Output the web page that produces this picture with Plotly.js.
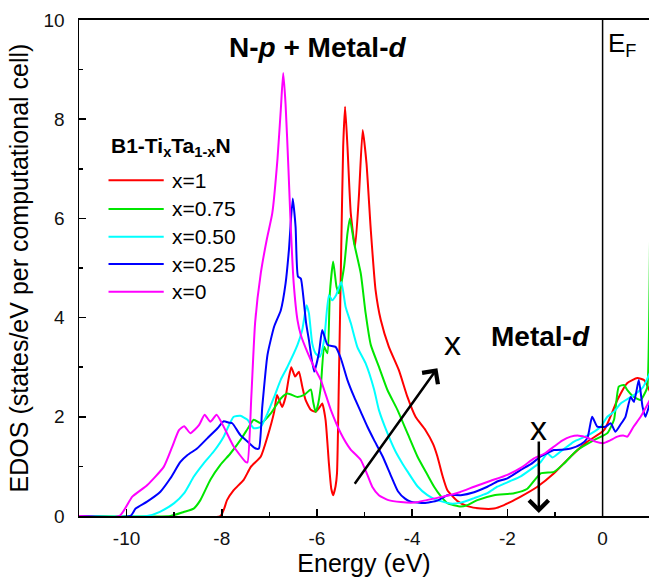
<!DOCTYPE html>
<html>
<head>
<meta charset="utf-8">
<script src="https://cdn.plot.ly/plotly-3.0.1.min.js"></script>
<style>
  html, body { margin: 0; padding: 0; background: #fff; overflow: hidden; }
  #chart { width: 649px; height: 577px; }
</style>
</head>
<body>
<div id="chart"></div>
<script>
// Electronic DOS of B1-TixTa1-xN for several compositions
const seriesNames = ['x=1', 'x=0.75', 'x=0.50', 'x=0.25', 'x=0'];
const seriesColors = ['#ff0000', '#00e600', '#00ffff', '#0000ff', '#ff00ff'];

// x = 1
const energy_x100 = [-11, -8.03, -7.95, -7.89, -7.75, -7.54, -7.39, -7.18, -7.04, -6.90, -6.84, -6.78, -6.73, -6.66, -6.59, -6.54, -6.46, -6.38, -6.31, -6.24, -6.13, -6.03, -5.94, -5.89, -5.82, -5.75, -5.70, -5.66, -5.61, -5.58, -5.54, -5.49, -5.45, -5.41, -5.36, -5.29, -5.20, -5.12, -5.04, -4.96, -4.87, -4.77, -4.66, -4.49, -4.28, -4.10, -3.93, -3.72, -3.56, -3.47, -3.36, -3.26, -3.05, -2.84, -2.56, -2.28, -2.07, -1.86, -1.72, -1.37, -1.02, -0.67, -0.32, 0.03, 0.31, 0.52, 0.73, 0.87, 1.0];
const dos_x100 = [0, 0, 0.15, 0.32, 0.52, 0.73, 0.99, 1.2, 1.6, 2.1, 2.44, 2.3, 2.2, 2.4, 2.8, 3.0, 2.81, 2.91, 2.61, 2.34, 2.14, 2.1, 2.2, 2.27, 1.94, 1.06, 0.55, 0.42, 0.6, 0.86, 2.74, 5.43, 7.45, 8.25, 7.45, 6.1, 5.43, 6.44, 7.78, 7.11, 5.77, 4.56, 3.95, 3.41, 2.94, 2.4, 2.0, 1.73, 1.45, 1.2, 0.8, 0.52, 0.3, 0.2, 0.15, 0.15, 0.22, 0.32, 0.39, 0.59, 0.86, 1.2, 1.5, 1.73, 2.34, 2.68, 2.78, 2.74, 2.5];

// x = 0.75
const energy_x075 = [-11, -9.08, -8.80, -8.59, -8.45, -8.24, -8.03, -7.82, -7.61, -7.43, -7.33, -7.18, -6.97, -6.76, -6.62, -6.41, -6.27, -6.13, -6.08, -6.03, -5.99, -5.92, -5.85, -5.78, -5.73, -5.66, -5.59, -5.54, -5.43, -5.36, -5.31, -5.22, -5.08, -4.98, -4.87, -4.70, -4.52, -4.31, -4.10, -3.89, -3.68, -3.54, -3.40, -3.26, -2.98, -2.84, -2.63, -2.28, -1.86, -1.58, -1.30, -1.02, -0.81, -0.53, -0.18, 0.10, 0.24, 0.34, 0.45, 0.52, 0.66, 0.80, 0.90, 0.94, 1.0];
const dos_x075 = [0, 0, 0.08, 0.15, 0.32, 0.73, 1.03, 1.26, 1.53, 1.80, 1.94, 1.87, 2.07, 2.37, 2.47, 2.4, 2.44, 2.55, 2.3, 2.1, 2.2, 2.61, 3.41, 3.28, 4.49, 5.13, 4.62, 4.49, 5.03, 5.70, 6.0, 5.5, 4.89, 4.1, 3.45, 3.01, 2.54, 2.14, 1.67, 1.2, 0.83, 0.59, 0.4, 0.26, 0.19, 0.22, 0.32, 0.42, 0.46, 0.55, 0.86, 0.89, 1.06, 1.33, 1.53, 1.67, 1.94, 2.61, 2.64, 2.54, 2.4, 2.34, 2.5, 2.6, 6.0];

// x = 0.50
const energy_x050 = [-11, -9.57, -9.29, -9.0, -8.79, -8.59, -8.38, -8.17, -7.96, -7.85, -7.75, -7.61, -7.46, -7.33, -7.18, -7.04, -6.90, -6.76, -6.62, -6.41, -6.31, -6.22, -6.17, -6.10, -6.03, -5.94, -5.85, -5.75, -5.68, -5.60, -5.49, -5.40, -5.29, -5.15, -4.98, -4.80, -4.70, -4.52, -4.35, -4.20, -4.10, -3.89, -3.68, -3.50, -3.19, -2.98, -2.70, -2.42, -2.21, -1.95, -1.72, -1.45, -1.30, -1.16, -1.05, -0.88, -0.60, -0.32, -0.04, 0.10, 0.24, 0.38, 0.66, 0.85, 1.0];
const dos_x050 = [0, 0, 0.09, 0.26, 0.46, 0.79, 1.06, 1.30, 1.60, 1.83, 2.0, 2.02, 1.94, 1.77, 1.80, 2.07, 2.4, 2.75, 3.01, 3.45, 3.75, 4.25, 4.09, 3.48, 3.28, 3.21, 3.55, 4.45, 4.35, 4.45, 4.72, 4.22, 3.89, 3.4, 3.08, 2.55, 2.14, 1.67, 1.3, 1.05, 0.9, 0.6, 0.42, 0.33, 0.25, 0.27, 0.36, 0.46, 0.59, 0.7, 0.8, 0.98, 1.09, 1.26, 1.18, 1.3, 1.5, 1.62, 1.8, 2.0, 2.1, 2.27, 2.44, 2.6, 2.9];

// x = 0.25
const energy_x025 = [-11, -9.92, -9.81, -9.57, -9.29, -9.08, -8.87, -8.72, -8.52, -8.30, -8.09, -7.96, -7.85, -7.78, -7.61, -7.46, -7.29, -7.22, -7.15, -7.04, -6.90, -6.76, -6.66, -6.59, -6.51, -6.45, -6.40, -6.34, -6.29, -6.23, -6.17, -6.06, -5.96, -5.89, -5.78, -5.61, -5.50, -5.36, -5.22, -5.08, -4.94, -4.80, -4.62, -4.45, -4.30, -4.15, -4.03, -3.75, -3.47, -3.26, -2.98, -2.70, -2.42, -2.20, -2.0, -1.72, -1.50, -1.30, -1.02, -0.80, -0.67, -0.45, -0.32, -0.22, -0.11, 0.06, 0.17, 0.27, 0.38, 0.48, 0.59, 0.66, 0.76, 0.84, 0.90, 1.0];
const dos_x025 = [0, 0, 0.15, 0.29, 0.49, 0.76, 1.09, 1.23, 1.36, 1.57, 1.77, 1.91, 1.88, 1.87, 1.63, 1.50, 1.36, 1.36, 2.2, 3.25, 3.82, 4.15, 4.69, 5.36, 6.4, 5.83, 4.83, 4.79, 4.45, 3.9, 3.55, 2.91, 3.28, 3.75, 3.45, 3.41, 3.18, 2.74, 2.4, 2.1, 1.8, 1.53, 1.2, 0.82, 0.5, 0.35, 0.29, 0.26, 0.31, 0.42, 0.42, 0.48, 0.59, 0.7, 0.76, 0.93, 1.05, 1.2, 1.33, 1.34, 1.36, 1.45, 1.57, 2.0, 1.8, 1.8, 1.87, 1.7, 1.85, 2.0, 2.4, 2.3, 2.74, 2.2, 2.0, 2.3];

// x = 0
const energy_x000 = [-11, -10.15, -9.88, -9.57, -9.22, -9.04, -8.90, -8.79, -8.66, -8.48, -8.36, -8.24, -8.11, -7.96, -7.75, -7.50, -7.46, -7.38, -7.30, -7.18, -7.05, -6.94, -6.83, -6.76, -6.71, -6.66, -6.60, -6.55, -6.49, -6.41, -6.34, -6.20, -6.06, -5.92, -5.71, -5.50, -5.30, -5.08, -4.95, -4.84, -4.70, -4.50, -4.24, -3.96, -3.70, -3.40, -3.0, -2.70, -2.35, -2.0, -1.70, -1.44, -1.20, -1.02, -0.85, -0.67, -0.50, -0.32, -0.15, 0.03, 0.15, 0.31, 0.45, 0.52, 0.65, 0.80, 1.0];
const dos_x000 = [0, 0, 0.39, 0.62, 0.99, 1.40, 1.73, 1.81, 1.67, 1.83, 2.04, 1.90, 2.04, 1.80, 1.40, 1.09, 1.08, 2.4, 3.9, 4.9, 5.6, 6.1, 7.2, 8.2, 8.93, 8.3, 7.0, 5.8, 4.7, 3.95, 3.65, 3.3, 3.0, 2.74, 2.14, 1.67, 1.35, 1.13, 0.85, 0.59, 0.42, 0.32, 0.28, 0.27, 0.32, 0.38, 0.48, 0.59, 0.71, 0.83, 0.98, 1.16, 1.27, 1.40, 1.52, 1.6, 1.62, 1.58, 1.5, 1.47, 1.52, 1.6, 1.62, 1.6, 1.8, 2.0, 2.35];

const energies = [energy_x100, energy_x075, energy_x050, energy_x025, energy_x000];
const dosValues = [dos_x100, dos_x075, dos_x050, dos_x025, dos_x000];

const xTickVals = [-10, -8, -6, -4, -2, 0];
const yTickVals = [0, 2, 4, 6, 8, 10];

const traces = seriesNames.map((name, i) => ({
  type: 'scatter',
  mode: 'lines',
  name: name,
  x: energies[i],
  y: dosValues[i],
  line: { color: seriesColors[i], width: 2, shape: 'spline', smoothing: 0.5 },
  showlegend: false,
  hoverinfo: 'skip'
}));

const FONT = 'Arial, "Liberation Sans", sans-serif';

// Hand-placed legend (long line swatches) in data coordinates
const legendX0 = -10.38, legendX1 = -9.22, legendTextX = -9.08;
const legendY = [6.77, 6.19, 5.63, 5.08, 4.52];

const shapes = [
  // Fermi level
  { type: 'line', xref: 'x', yref: 'paper', x0: 0, x1: 0, y0: 0, y1: 1,
    line: { color: '#000', width: 1.5 } }
];
const annotations = [];

seriesNames.forEach((name, i) => {
  shapes.push({ type: 'line', xref: 'x', yref: 'y', x0: legendX0, x1: legendX1,
    y0: legendY[i], y1: legendY[i], line: { color: seriesColors[i], width: 2 } });
  annotations.push({ xref: 'x', yref: 'y', x: legendTextX, y: legendY[i], text: name,
    showarrow: false, xanchor: 'left', yanchor: 'middle',
    font: { family: FONT, size: 21, color: '#000' } });
});

annotations.push(
  { xref: 'x', yref: 'y', x: -10.36, y: 7.44, xanchor: 'left', yanchor: 'middle', showarrow: false,
    text: '<b>B1-Ti<sub>x</sub>Ta<sub>1-x</sub>N</b>',
    font: { family: FONT, size: 21, color: '#000' } },
  { xref: 'x', yref: 'y', x: -5.99, y: 9.44, xanchor: 'center', yanchor: 'middle', showarrow: false,
    text: '<b>N-<i>p</i> + Metal-<i>d</i></b>',
    font: { family: FONT, size: 28, color: '#000' } },
  { xref: 'x', yref: 'y', x: -1.30, y: 3.61, xanchor: 'center', yanchor: 'middle', showarrow: false,
    text: '<b>Metal-<i>d</i></b>',
    font: { family: FONT, size: 28, color: '#000' } },
  { xref: 'x', yref: 'y', x: 0, y: 9.5, xanchor: 'left', yanchor: 'middle', xshift: 3, showarrow: false,
    text: 'E<sub>F</sub>',
    font: { family: FONT, size: 26, color: '#000' } },
  { xref: 'x', yref: 'y', x: -3.15, y: 3.49, xanchor: 'center', yanchor: 'middle', showarrow: false,
    text: 'x', font: { family: FONT, size: 34, color: '#000' } },
  { xref: 'x', yref: 'y', x: -1.34, y: 1.78, xanchor: 'center', yanchor: 'middle', showarrow: false,
    text: 'x', font: { family: FONT, size: 34, color: '#000' } },
  // trend arrows
  { xref: 'x', yref: 'y', axref: 'x', ayref: 'y', x: -3.47, y: 2.98, ax: -5.23, ay: 0.62,
    text: '', showarrow: true, arrowhead: 4, arrowsize: 1.5, arrowwidth: 2.5, arrowcolor: '#000' },
  { xref: 'x', yref: 'y', axref: 'x', ayref: 'y', x: -1.34, y: 0.06, ax: -1.34, ay: 1.53,
    text: '', showarrow: true, arrowhead: 4, arrowsize: 1.5, arrowwidth: 2.5, arrowcolor: '#000' }
);

const layout = {
  width: 649,
  height: 577,
  margin: { l: 79, r: 0, t: 20, b: 61 },
  paper_bgcolor: '#fff',
  plot_bgcolor: '#fff',
  font: { family: FONT, color: '#111' },
  showlegend: false,
  xaxis: {
    range: [-11, 0.975],
    tickvals: xTickVals,
    ticktext: xTickVals.map(String),
    ticks: 'inside', ticklen: 7, tickwidth: 1.5, tickcolor: '#000',
    minor: { ticks: 'inside', ticklen: 4, tickwidth: 1.5, tickcolor: '#000', dtick: 1, tick0: 0 },
    showline: true, linecolor: '#000', linewidth: 2, mirror: true,
    showgrid: false, zeroline: false,
    ticklabelstandoff: 4,
    tickfont: { family: FONT, size: 19, color: '#111' },
    title: { text: 'Energy (eV)', font: { family: FONT, size: 25, color: '#000' }, standoff: 8 }
  },
  yaxis: {
    range: [0, 10],
    tickvals: yTickVals,
    ticktext: yTickVals.map(String),
    ticks: 'inside', ticklen: 7, tickwidth: 1.5, tickcolor: '#000',
    minor: { ticks: 'inside', ticklen: 4, tickwidth: 1.5, tickcolor: '#000', dtick: 1, tick0: 0 },
    showline: true, linecolor: '#000', linewidth: 1.5,
    showgrid: false, zeroline: false,
    ticklabelstandoff: 9,
    tickfont: { family: FONT, size: 19, color: '#111' },
    title: { text: 'EDOS (states/eV per computational cell)', font: { family: FONT, size: 25, color: '#000' }, standoff: 8 }
  },
  shapes: shapes,
  annotations: annotations
};

Plotly.newPlot('chart', traces, layout, { displayModeBar: false, staticPlot: true });
</script>
</body>
</html>
